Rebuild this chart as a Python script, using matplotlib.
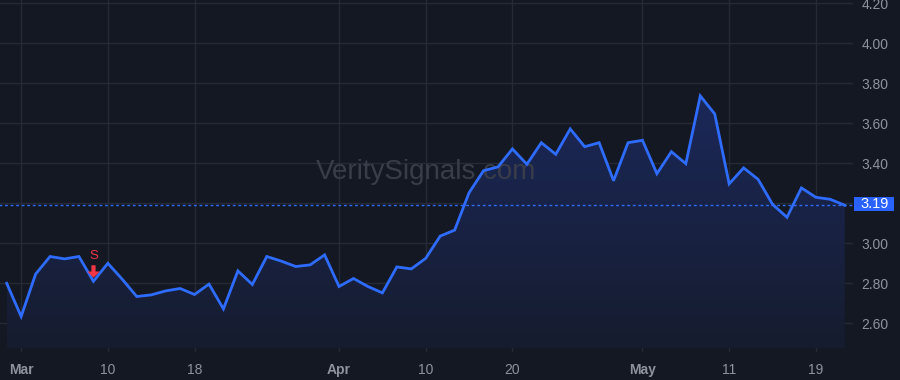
import numpy as np
import matplotlib
matplotlib.use("Agg")
import matplotlib.pyplot as plt
from matplotlib.colors import LinearSegmentedColormap
from matplotlib.path import Path
from matplotlib.patches import Rectangle
from matplotlib.transforms import offset_copy

# ------------------ DATA ------------------

prices = [2.80, 2.634, 2.846, 2.934, 2.922, 2.934, 2.81, 2.90, 2.82, 2.734,
          2.742, 2.762, 2.774, 2.744, 2.796, 2.672, 2.862, 2.794, 2.934, 2.911,
          2.884, 2.892, 2.942, 2.784, 2.824, 2.784, 2.752, 2.882, 2.872, 2.925,
          3.036, 3.066, 3.253, 3.363, 3.382, 3.472, 3.395, 3.503, 3.445, 3.572,
          3.483, 3.503, 3.313, 3.503, 3.515, 3.348, 3.458, 3.398, 3.737, 3.647,
          3.297, 3.377, 3.32, 3.195, 3.13, 3.277, 3.230, 3.22, 3.19]

tick_idx = [1, 7, 13, 23, 29, 35, 44, 50, 56]
tick_labels = ['Mar', '10', '18', 'Apr', '10', '20', 'May', '11', '19']
month_labels = ['Mar', 'Apr', 'May']

price_ticks = [2.60, 2.80, 3.00, 3.20, 3.40, 3.60, 3.80, 4.00, 4.20]
last_price = 3.19
signal_idx = 6
signal_text = 'S'

# ------------------ STYLE ------------------

bg = '#141823'
grid_c = '#262a36'
line_c = '#2e6bff'
text_c = '#8e929e'
red = '#f23645'
plt.rcParams['font.family'] = ['Liberation Sans', 'DejaVu Sans']

fig = plt.figure(figsize=(9, 3.8), dpi=100, facecolor=bg)
ax = fig.add_axes([0, 28 / 380, 853 / 900, 352 / 380], facecolor=bg)

x = np.arange(len(prices))
y = np.array(prices)

ymin, ymax = 2.4565, 4.2165
ax.set_xlim(-0.464, 58.57)
ax.set_ylim(ymin, ymax)

# gradient area under the line
fill = ax.fill_between(x, y, ymin + 0.02, color='none')
grad = np.linspace(0, 1, 256).reshape(-1, 1)
cmap = LinearSegmentedColormap.from_list('g', ['#161c2e', '#1b2859'])
img = ax.imshow(grad, cmap=cmap, aspect='auto', origin='lower',
                extent=[x[0], x[-1], ymin, y.max()], zorder=1)
img.set_clip_path(fill.get_paths()[0], transform=ax.transData)

ax.plot(x, y, color=line_c, lw=2, zorder=3, solid_joinstyle='miter')
ax.plot([-1, x[-1] + 0.5], [last_price, last_price], color=line_c, lw=1,
        ls=(0, (2, 2)), zorder=2)

# grid
ax.set_xticks(tick_idx)
ax.set_yticks(price_ticks)
ax.grid(True, color=grid_c, lw=1)
ax.set_axisbelow(True)
for s in ax.spines.values():
    s.set_visible(False)

ax.yaxis.tick_right()
ax.tick_params(axis='y', length=0, pad=6, labelsize=10, labelcolor=text_c)
ax.set_yticklabels([f'{v:.2f}' for v in price_ticks])
ax.tick_params(axis='x', length=0, pad=8, labelsize=10, labelcolor=text_c)
ax.set_xticklabels(tick_labels)
for lab in ax.get_xticklabels():
    if lab.get_text() in month_labels:
        lab.set_fontweight('bold')

# last price tag
fig.patches.append(Rectangle((854 / 900, 1 - 211 / 380), 40 / 900, 14 / 380,
                             transform=fig.transFigure, fc='#2962ff', ec='none', zorder=5))
fig.text(875 / 900, 1 - 204.5 / 380, f'{last_price:.2f}', color='white', fontsize=10.5,
         ha='center', va='center', zorder=6)

# sell signal
arrow = Path([(-2, 6), (2, 6), (2, 0), (6, 0), (0, -6), (-6, 0), (-2, 0), (-2, 6)],
             [Path.MOVETO] + [Path.LINETO] * 6 + [Path.CLOSEPOLY])
ax.plot([signal_idx], [y[signal_idx]], marker=arrow, ms=9, color=red, mec='none', ls='none',
        transform=offset_copy(ax.transData, fig, x=0, y=10, units='dots'), zorder=4)
ax.text(signal_idx, y[signal_idx], signal_text, color=red, fontsize=9.5, ha='center', va='center',
        transform=offset_copy(ax.transData, fig, x=0, y=25, units='dots'), zorder=4)

# watermark
ax.text(0.499, 0.51, 'VeritySignals.com', transform=ax.transAxes, fontsize=20,
        color='#393d49', ha='center', va='center', zorder=2)

fig.savefig('out.png', dpi=100, facecolor=bg)
